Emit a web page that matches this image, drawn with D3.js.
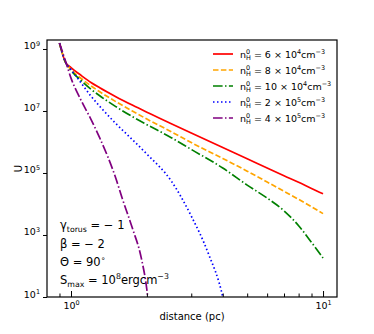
<!DOCTYPE html>
<html>
<head>
<meta charset="utf-8">
<script src="https://cdn.jsdelivr.net/npm/d3@7"></script>
<style>
body { margin: 0; background: #fff; }
text { font-family: "DejaVu Sans", sans-serif; fill: #000; }
</style>
</head>
<body>
<div id="chart"></div>
<script>
// distances (pc) and log10(U)
var distA = [0.9, 0.95, 1.0, 1.1, 1.2, 1.3, 1.5, 1.75, 2, 2.5, 3, 4, 5, 6, 7, 8, 9, 10];
var logU6e4 = [9.19, 8.58, 8.40, 8.14, 7.92, 7.75, 7.47, 7.19, 6.96, 6.59, 6.29, 5.82, 5.46, 5.16, 4.91, 4.70, 4.50, 4.33];
var logU8e4 = [9.19, 8.58, 8.34, 8.04, 7.81, 7.62, 7.31, 7.00, 6.74, 6.33, 5.98, 5.47, 5.06, 4.71, 4.41, 4.15, 3.91, 3.69];
var logU10e4 = [9.19, 8.58, 8.31, 7.97, 7.70, 7.49, 7.15, 6.82, 6.56, 6.14, 5.76, 5.16, 4.61, 4.19, 3.78, 3.30, 2.76, 2.26];

var distB = [0.9, 0.95, 1.0, 1.1, 1.2, 1.3, 1.5, 1.75, 2, 2.5, 3, 3.5, 4, 4.1];
var logU2e5 = [9.19, 8.58, 8.34, 7.89, 7.48, 7.15, 6.61, 6.08, 5.61, 4.74, 3.61, 2.42, 1.0, 0.58];

var distC = [0.9, 0.95, 1.0, 1.1, 1.2, 1.3, 1.4, 1.5, 1.6, 1.75, 1.9, 2.0, 2.05];
var logU4e5 = [9.19, 8.62, 8.06, 7.32, 6.73, 6.13, 5.52, 4.87, 4.16, 3.23, 2.26, 1.23, 0.42];

var seriesColors = ["red", "orange", "green", "blue", "purple"];
var seriesDash = ["", "5.5,2.4", "9.6,2.4,1.5,2.4", "1.5,2.5", "9.6,2.4,1.5,2.4"];
var legendMant = ["6", "8", "10", "2", "4"];
var legendExp = ["4", "4", "4", "5", "5"];

var yTicks = [1e1, 1e3, 1e5, 1e7, 1e9];
var yTickExp = ["1", "3", "5", "7", "9"];
var xMajor = [1, 10];
var xMajorExp = ["0", "1"];
var xMinor = [0.9, 2, 3, 4, 5, 6, 7, 8, 9];

var W = 374, H = 334;
var L = 47, R = 337, T = 40, B = 297;

var svg = d3.select("#chart").append("svg")
    .attr("width", W).attr("height", H);

var x = d3.scaleLog().domain([0.803, 11.36]).range([L, R]);
var y = d3.scaleLog().domain([10, Math.pow(10, 9.29)]).range([B, T]);

svg.append("clipPath").attr("id", "plotclip")
  .append("rect").attr("x", L).attr("y", T).attr("width", R - L).attr("height", B - T);

// write text with super/subscripts, parts = [[str, "n"|"sup"|"sub", dx]]
function rich(sel, parts, fs) {
    var shift = 0;
    parts.forEach(function(p) {
        var target = p[1] == "sup" ? -0.4 * fs : p[1] == "sub" ? 0.24 * fs : 0;
        var t = sel.append("tspan").text(p[0])
            .attr("dy", target - shift)
            .style("font-size", (p[1] == "n" ? fs : fs * 0.68) + "px");
        if (p[2]) t.attr("dx", p[2]);
        shift = target;
    });
}

// lines
var line = d3.line()
    .x(function(d) { return x(d[0]); })
    .y(function(d) { return y(Math.pow(10, d[1])); })
    .curve(d3.curveMonotoneX);

var series = [
    d3.zip(distA, logU6e4),
    d3.zip(distA, logU8e4),
    d3.zip(distA, logU10e4),
    d3.zip(distB, logU2e5),
    d3.zip(distC, logU4e5)
];

svg.append("g").attr("clip-path", "url(#plotclip)")
  .selectAll("path")
  .data(series)
  .enter()
  .append("path")
    .attr("d", line)
    .attr("fill", "none")
    .attr("stroke", function(d, i) { return seriesColors[i]; })
    .attr("stroke-width", 1.7)
    .attr("stroke-dasharray", function(d, i) { return seriesDash[i]; });

// y axis, ticks outward
var gy = svg.append("g")
    .attr("transform", "translate(" + L + ",0)")
    .call(d3.axisLeft(y).tickValues(yTicks).tickSize(4).tickFormat(""));
gy.select(".domain").remove();
gy.selectAll(".tick").each(function(d, i) {
    var t = d3.select(this).append("text")
        .attr("x", -7).attr("dy", "0.35em")
        .attr("text-anchor", "end");
    rich(t, [["10", "n"], [yTickExp[i], "sup"]], 9.5);
});

// x axis, ticks inward
var gx = svg.append("g")
    .attr("transform", "translate(0," + B + ")")
    .call(d3.axisBottom(x).tickValues(xMajor).tickSize(-6).tickFormat(""));
gx.select(".domain").remove();
gx.selectAll(".tick").each(function(d, i) {
    var t = d3.select(this).append("text")
        .attr("y", 12).attr("text-anchor", "middle");
    rich(t, [["10", "n"], [xMajorExp[i], "sup"]], 9.5);
});
svg.append("g")
    .attr("transform", "translate(0," + B + ")")
    .call(d3.axisBottom(x).tickValues(xMinor).tickSize(-3.5).tickFormat(""))
    .select(".domain").remove();

// frame
svg.append("rect")
    .attr("x", L).attr("y", T).attr("width", R - L).attr("height", B - T)
    .attr("fill", "none").attr("stroke", "#000").attr("stroke-width", 1.2);

// axis labels
svg.append("text")
    .attr("x", (L + R) / 2).attr("y", 320)
    .attr("text-anchor", "middle").style("font-size", "10px")
    .text("distance (pc)");
svg.append("text")
    .attr("transform", "translate(22," + ((T + B) / 2) + ")rotate(-90)")
    .attr("text-anchor", "middle").style("font-size", "10px")
    .text("U");

// legend
var leg = svg.append("g");
var rowY = [54, 70, 86, 102, 118];
rowY.forEach(function(ry, i) {
    leg.append("line")
        .attr("x1", 213).attr("x2", 233).attr("y1", ry).attr("y2", ry)
        .attr("stroke", seriesColors[i]).attr("stroke-width", 1.7)
        .attr("stroke-dasharray", seriesDash[i]);
    var t = leg.append("text").attr("x", 240).attr("y", ry + 3.5).style("font-size", "9.5px");
    rich(t, [["n", "n"], ["0", "sup"], ["H", "sub", "-0.64em"],
             [" = " + legendMant[i] + " \u00d7 10", "n"], [legendExp[i], "sup"],
             ["cm", "n"], ["\u22123", "sup"]], 9.5);
});

// parameter notes
var notes = svg.append("g").style("font-size", "11.5px");
rich(notes.append("text").attr("x", 60).attr("y", 229),
    [["\u03b3", "n"], ["torus", "sub"], [" = \u2212 1", "n"]], 11.5);
notes.append("text").attr("x", 60).attr("y", 248).text("\u03b2 = \u2212 2");
rich(notes.append("text").attr("x", 60).attr("y", 266),
    [["\u0398 = 90", "n"], ["\u2218", "sup"]], 11.5);
rich(notes.append("text").attr("x", 60).attr("y", 284),
    [["S", "n"], ["max", "sub"], [" = 10", "n"], ["8", "sup"], ["ergcm", "n"], ["\u22123", "sup"]], 11.5);
</script>
</body>
</html>
